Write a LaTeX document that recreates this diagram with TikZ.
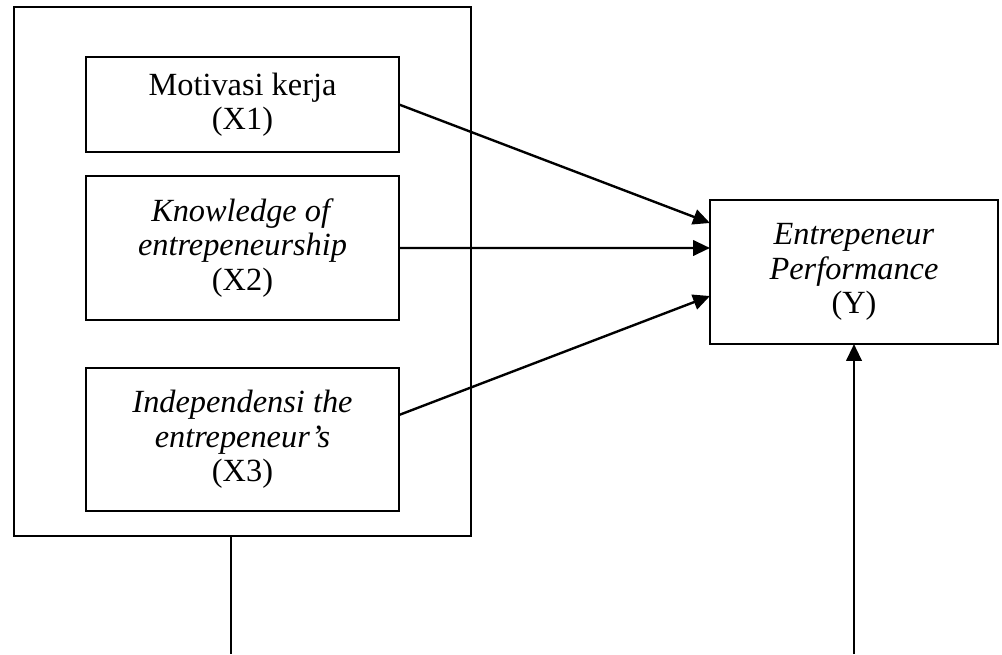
\documentclass[tikz,border=0pt]{standalone}
\usepackage{fontspec}
\setmainfont{Liberation Serif}
\usetikzlibrary{arrows.meta}

\begin{document}
\begin{tikzpicture}[x=0.025cm, y=-0.025cm]

\tikzstyle{frame} = [rectangle, draw, line width=1.1pt, inner sep=0pt, outer sep=0pt]
\tikzstyle{varbox} = [frame, align=center, minimum width=7.825cm, font=\fontsize{23}{24.5}\selectfont]
\tikzstyle{arrow} = [line width=1.7pt, -{Triangle[length=12pt, width=11pt]}]
\tikzstyle{link} = [line width=1.3pt]

\useasboundingbox (0,0) rectangle (1002,654);

% Left group
\node (outer) [frame, minimum width=11.425cm, minimum height=13.225cm] at (242.5,271.5) {};
\node (x1) [varbox, minimum height=2.375cm] at (242.5,104.5) {Motivasi kerja\\(X1)};
\node (x2) [varbox, minimum height=3.6cm] at (242.5,248) {\textit{Knowledge of}\\\textit{entrepeneurship}\\(X2)};
\node (x3) [varbox, minimum height=3.575cm] at (242.5,439.5) {\textit{Independensi the}\\\textit{entrepeneur’s}\\(X3)};

% Right box
\node (y) [varbox, minimum width=7.2cm, minimum height=3.6cm] at (854,272) {\textit{Entrepeneur}\\\textit{Performance}\\(Y)};

% Paths
\draw [arrow] (x1.east) -- ([yshift=1.225cm]y.west);
\draw [arrow] (x2.east) -- ([yshift=0.6cm]y.west);
\draw [arrow] ([yshift=0.6125cm]x3.east) -- ([yshift=-0.6cm]y.west);

\coordinate (b1) at (231,654);
\coordinate (b2) at (854,654);
\draw [link] (b1 |- outer.south) -- (b1);
\draw [arrow] (b2) -- (y.south);

\end{tikzpicture}
\end{document}
